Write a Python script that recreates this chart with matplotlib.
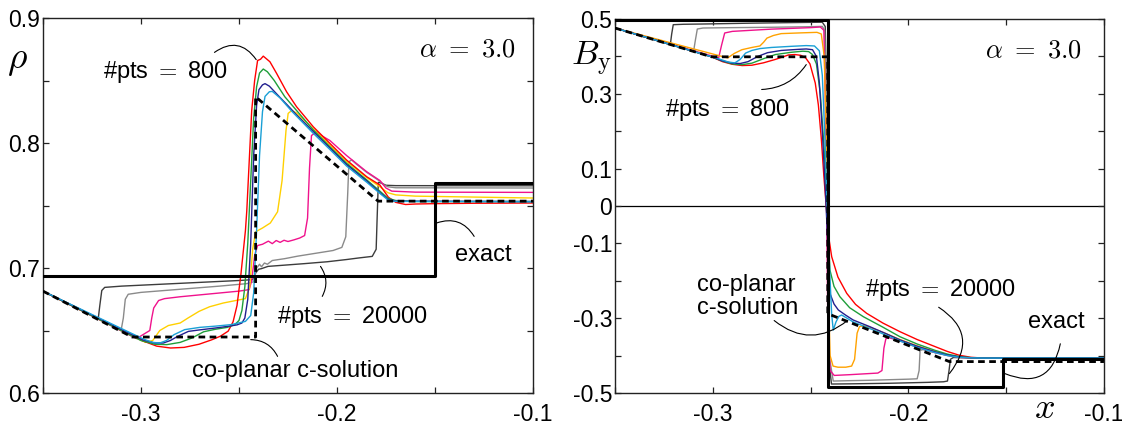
import matplotlib
matplotlib.use("Agg")
import matplotlib.pyplot as plt

plt.rcParams['font.family'] = ['Liberation Sans', 'DejaVu Sans']
plt.rcParams['mathtext.fontset'] = 'cm'

# === colours of the runs (800 ... 20000 pts) ===
c_red, c_green, c_blue, c_cyan = '#ff0000', '#1f9e3a', '#221f8f', '#1aa0d6'
c_yel_l, c_yel_r, c_mag = '#ffd000', '#ffa200', '#f0128c'
c_gray, c_dgray = '#8a8a8a', '#3c3c3c'

# ================= left panel: rho =================
rho_exact_x = [-0.35, -0.15, -0.15, -0.1]
rho_exact_y = [0.6933, 0.6933, 0.7677, 0.7677]
rho_csol_x = [-0.35, -0.3045, -0.2415, -0.2415, -0.179, -0.1]
rho_csol_y = [0.6815, 0.6448, 0.6448, 0.837, 0.7535, 0.7535]

rho_red_x = [-0.35, -0.2995, -0.292, -0.2849, -0.278, -0.2704, -0.264, -0.2594, -0.2555, -0.253, -0.251, -0.249,
             -0.2467, -0.246, -0.2435, -0.242, -0.2405, -0.239, -0.2376, -0.2342, -0.2308, -0.2257, -0.2206,
             -0.2121, -0.2036, -0.1951, -0.1848, -0.1781, -0.1738, -0.17, -0.165, -0.16, -0.15, -0.13, -0.1]
rho_red_y = [0.6815, 0.642, 0.6375, 0.636, 0.6365, 0.639, 0.6425, 0.6455, 0.6495, 0.657, 0.67, 0.695,
             0.73, 0.746, 0.826, 0.85, 0.866, 0.867, 0.8695, 0.865, 0.8557, 0.841, 0.829,
             0.813, 0.7997, 0.7864, 0.773, 0.7664, 0.7567, 0.7525, 0.7508, 0.7512, 0.7515, 0.7518, 0.752]

rho_green_x = [-0.35, -0.3, -0.293, -0.2868, -0.28, -0.274, -0.268, -0.262, -0.256, -0.2521, -0.25, -0.2485,
               -0.247, -0.2455, -0.244, -0.2425, -0.241, -0.2395, -0.2376, -0.2355, -0.232, -0.2266, -0.2206,
               -0.2121, -0.2036, -0.1951, -0.1848, -0.1781, -0.174, -0.17, -0.16, -0.1]
rho_green_y = [0.6815, 0.642, 0.639, 0.6387, 0.6405, 0.644, 0.649, 0.651, 0.6525, 0.6547, 0.658, 0.666,
               0.685, 0.72, 0.77, 0.82, 0.845, 0.856, 0.8592, 0.857, 0.85, 0.837, 0.826,
               0.8105, 0.797, 0.7838, 0.7705, 0.7615, 0.7558, 0.754, 0.7532, 0.7532]

rho_blue_x = [-0.35, -0.299, -0.293, -0.2886, -0.285, -0.2813, -0.2758, -0.27, -0.262, -0.2558, -0.251, -0.2485,
              -0.247, -0.2455, -0.244, -0.2425, -0.241, -0.2398, -0.238, -0.2367, -0.2345, -0.23, -0.2257,
              -0.2206, -0.2121, -0.2036, -0.1951, -0.1848, -0.1781, -0.174, -0.17, -0.1]
rho_blue_y = [0.6815, 0.6425, 0.64, 0.64, 0.642, 0.6453, 0.6493, 0.6505, 0.652, 0.6533, 0.6545, 0.656,
              0.66, 0.675, 0.72, 0.79, 0.83, 0.8427, 0.8465, 0.8475, 0.8455, 0.838, 0.831,
              0.8225, 0.8092, 0.796, 0.7828, 0.7696, 0.7603, 0.755, 0.7535, 0.7532]

rho_cyan_x = [-0.35, -0.2985, -0.294, -0.2904, -0.287, -0.2831, -0.2777, -0.27, -0.262, -0.254, -0.2467, -0.244,
              -0.2425, -0.241, -0.2395, -0.238, -0.2367, -0.2345, -0.233, -0.229, -0.223, -0.2121, -0.2036,
              -0.1951, -0.1848, -0.1781, -0.174, -0.17, -0.1]
rho_cyan_y = [0.6815, 0.643, 0.6405, 0.64, 0.642, 0.6467, 0.6507, 0.6525, 0.6535, 0.6547, 0.6573, 0.662,
              0.68, 0.73, 0.79, 0.825, 0.8373, 0.841, 0.8413, 0.836, 0.8253, 0.8078, 0.7948,
              0.7816, 0.7686, 0.7597, 0.7545, 0.7533, 0.753]

rho_yel_x = [-0.35, -0.2977, -0.294, -0.2904, -0.286, -0.28, -0.276, -0.2704, -0.265, -0.258, -0.25, -0.2467,
             -0.2445, -0.243, -0.2415, -0.238, -0.234, -0.2303, -0.228, -0.226, -0.2249, -0.2231, -0.2206,
             -0.2121, -0.2036, -0.1951, -0.1848, -0.1781, -0.174, -0.17, -0.16, -0.1]
rho_yel_y = [0.6815, 0.6405, 0.642, 0.65, 0.654, 0.656, 0.66, 0.6653, 0.669, 0.672, 0.6745, 0.6755,
             0.685, 0.715, 0.729, 0.732, 0.736, 0.745, 0.77, 0.81, 0.8237, 0.826, 0.824,
             0.8113, 0.7983, 0.7853, 0.7723, 0.765, 0.7602, 0.7585, 0.7575, 0.756]

rho_mag_x = [-0.35, -0.3023, -0.2955, -0.2945, -0.2935, -0.291, -0.288, -0.28, -0.27, -0.26, -0.25, -0.2448,
             -0.2435, -0.242, -0.2405, -0.238, -0.235, -0.233, -0.231, -0.229, -0.227, -0.225, -0.222, -0.219,
             -0.2165, -0.215, -0.214, -0.213, -0.2104, -0.208, -0.2036, -0.1951, -0.1848, -0.1781, -0.175,
             -0.172, -0.16, -0.1]
rho_mag_y = [0.6815, 0.6435, 0.65, 0.66, 0.668, 0.674, 0.6755, 0.677, 0.6785, 0.68, 0.6815, 0.6827,
             0.69, 0.71, 0.718, 0.719, 0.7215, 0.7195, 0.722, 0.7205, 0.7222, 0.7212, 0.7225, 0.724,
             0.726, 0.74, 0.78, 0.806, 0.809, 0.806, 0.802, 0.79, 0.777, 0.77, 0.764,
             0.7615, 0.7607, 0.7605]

rho_gray_x = [-0.35, -0.3101, -0.309, -0.308, -0.3065, -0.3, -0.28, -0.26, -0.246, -0.2425, -0.241, -0.2395,
              -0.2385, -0.237, -0.2355, -0.233, -0.2266, -0.22, -0.21, -0.202, -0.1975, -0.1955, -0.1945,
              -0.1939, -0.1925, -0.19, -0.1848, -0.1781, -0.176, -0.174, -0.17, -0.1]
rho_gray_y = [0.6815, 0.6505, 0.66, 0.675, 0.679, 0.6805, 0.683, 0.6855, 0.6875, 0.689, 0.7, 0.703,
              0.701, 0.704, 0.703, 0.706, 0.7075, 0.7095, 0.712, 0.714, 0.7165, 0.725, 0.76,
              0.785, 0.7865, 0.783, 0.7765, 0.7695, 0.7665, 0.765, 0.7642, 0.764]

rho_dgray_x = [-0.35, -0.3218, -0.321, -0.32, -0.3185, -0.31, -0.29, -0.27, -0.25, -0.243, -0.2415, -0.24,
               -0.2385, -0.2352, -0.225, -0.2166, -0.205, -0.195, -0.1891, -0.182, -0.18, -0.1795, -0.1789,
               -0.1775, -0.175, -0.17, -0.1]
rho_dgray_y = [0.6815, 0.6595, 0.67, 0.682, 0.6845, 0.6855, 0.687, 0.6885, 0.69, 0.6907, 0.696, 0.699,
               0.6995, 0.7013, 0.7025, 0.7035, 0.705, 0.7068, 0.708, 0.7093, 0.715, 0.74, 0.7685,
               0.768, 0.7662, 0.7659, 0.7658]

# ================= right panel: B_y =================
by_exact_x = [-0.35, -0.2412, -0.2412, -0.1516, -0.1516, -0.1]
by_exact_y = [0.498, 0.498, -0.484, -0.484, -0.409, -0.409]
by_csol_x = [-0.35, -0.3006, -0.2412, -0.2412, -0.179, -0.1]
by_csol_y = [0.476, 0.399, 0.399, -0.288, -0.416, -0.416]

by_red_x = [-0.35, -0.3006, -0.295, -0.29, -0.285, -0.28, -0.274, -0.268, -0.264, -0.2613, -0.258, -0.255,
            -0.2525, -0.2503, -0.249, -0.2476, -0.246, -0.2445, -0.2432, -0.242, -0.2408, -0.2392, -0.236,
            -0.2315, -0.227, -0.2213, -0.213, -0.2043, -0.1955, -0.1863, -0.18, -0.174, -0.168, -0.162, -0.1]
by_red_y = [0.476, 0.399, 0.386, 0.379, 0.3756, 0.3765, 0.383, 0.392, 0.399, 0.404, 0.405, 0.403,
            0.396, 0.38, 0.355, 0.329, 0.27, 0.18, 0.08, 0.0, -0.08, -0.1355, -0.19,
            -0.2335, -0.263, -0.287, -0.313, -0.336, -0.357, -0.376, -0.389, -0.399, -0.4045, -0.4065, -0.4065]

by_green_x = [-0.35, -0.3006, -0.295, -0.29, -0.285, -0.28, -0.274, -0.268, -0.26, -0.254, -0.251, -0.249,
              -0.247, -0.245, -0.243, -0.2415, -0.2401, -0.238, -0.235, -0.23, -0.223, -0.213, -0.2043,
              -0.1955, -0.1863, -0.18, -0.174, -0.168, -0.162, -0.1]
by_green_y = [0.476, 0.399, 0.3875, 0.38, 0.378, 0.382, 0.394, 0.405, 0.411, 0.414, 0.413, 0.405,
              0.38, 0.3, 0.15, 0.0, -0.171, -0.215, -0.2425, -0.272, -0.296, -0.324, -0.3495,
              -0.369, -0.386, -0.396, -0.4025, -0.4055, -0.4065, -0.4065]

by_blue_x = [-0.35, -0.3006, -0.295, -0.29, -0.286, -0.282, -0.277, -0.272, -0.265, -0.256, -0.2522, -0.249,
             -0.247, -0.2455, -0.244, -0.2425, -0.2412, -0.2401, -0.238, -0.2358, -0.232, -0.2282, -0.22,
             -0.212, -0.2043, -0.1955, -0.1863, -0.18, -0.174, -0.168, -0.162, -0.1]
by_blue_y = [0.476, 0.399, 0.388, 0.382, 0.381, 0.386, 0.4, 0.41, 0.416, 0.419, 0.42, 0.418,
             0.4, 0.33, 0.2, 0.05, -0.1, -0.2335, -0.262, -0.278, -0.292, -0.3048, -0.322,
             -0.34, -0.358, -0.375, -0.39, -0.3985, -0.4035, -0.406, -0.4065, -0.4065]

by_cyan_x = [-0.35, -0.296, -0.292, -0.2887, -0.286, -0.2832, -0.28, -0.2759, -0.27, -0.26, -0.2522, -0.248,
             -0.2455, -0.244, -0.2428, -0.2418, -0.2408, -0.24, -0.2392, -0.2384, -0.237, -0.2355, -0.2341,
             -0.232, -0.2282, -0.22, -0.212, -0.2043, -0.1955, -0.1863, -0.18, -0.174, -0.168, -0.162, -0.1]
by_cyan_y = [0.476, 0.392, 0.385, 0.3827, 0.392, 0.409, 0.416, 0.421, 0.424, 0.427, 0.429, 0.428,
             0.415, 0.35, 0.2, 0.05, -0.1, -0.2, -0.29, -0.3316, -0.31, -0.295, -0.2914,
             -0.298, -0.31, -0.327, -0.344, -0.361, -0.378, -0.392, -0.4, -0.4045, -0.406, -0.4065, -0.4065]

by_org_x = [-0.35, -0.2924, -0.289, -0.2851, -0.28, -0.2759, -0.274, -0.2723, -0.269, -0.265, -0.255, -0.2467,
            -0.2445, -0.243, -0.242, -0.2413, -0.2408, -0.24, -0.2385, -0.236, -0.232, -0.229, -0.2275,
            -0.2262, -0.225, -0.223, -0.22, -0.212, -0.2043, -0.1955, -0.1863, -0.18, -0.174, -0.168, -0.162, -0.1]
by_org_y = [0.476, 0.396, 0.408, 0.418, 0.424, 0.428, 0.438, 0.449, 0.456, 0.461, 0.463, 0.4644,
            0.46, 0.4, 0.2, 0.0, -0.25, -0.4, -0.428, -0.431, -0.431, -0.428, -0.41,
            -0.34, -0.3227, -0.32, -0.3235, -0.34, -0.357, -0.374, -0.389, -0.398, -0.4035, -0.406, -0.4065, -0.4065]

by_mag_x = [-0.35, -0.297, -0.2955, -0.2939, -0.29, -0.28, -0.27, -0.26, -0.25, -0.245, -0.2432, -0.2425,
            -0.2418, -0.2412, -0.24, -0.2379, -0.23, -0.22, -0.2156, -0.2135, -0.2125, -0.2115, -0.21,
            -0.2043, -0.1955, -0.1863, -0.18, -0.174, -0.168, -0.162, -0.1]
by_mag_y = [0.476, 0.396, 0.43, 0.4627, 0.467, 0.47, 0.473, 0.475, 0.477, 0.4787, 0.47, 0.3,
            0.0, -0.3, -0.44, -0.453, -0.451, -0.448, -0.4467, -0.44, -0.38, -0.355, -0.352,
            -0.3605, -0.3775, -0.392, -0.3995, -0.4045, -0.406, -0.4065, -0.4065]

by_gray_x = [-0.35, -0.3098, -0.309, -0.3079, -0.305, -0.29, -0.27, -0.25, -0.244, -0.2428, -0.242, -0.2414,
             -0.2405, -0.2384, -0.23, -0.22, -0.21, -0.2, -0.1955, -0.1945, -0.194, -0.1925, -0.19,
             -0.1863, -0.18, -0.174, -0.168, -0.162, -0.1]
by_gray_y = [0.476, 0.4138, 0.44, 0.4733, 0.476, 0.477, 0.478, 0.4795, 0.4804, 0.47, 0.3, 0.0,
             -0.4, -0.468, -0.467, -0.466, -0.4645, -0.463, -0.462, -0.44, -0.386, -0.384, -0.387,
             -0.392, -0.3995, -0.4045, -0.406, -0.4065, -0.4065]

by_dgray_x = [-0.35, -0.3217, -0.321, -0.3202, -0.315, -0.3052, -0.28, -0.2503, -0.244, -0.2425, -0.2418,
              -0.2412, -0.2405, -0.2393, -0.23, -0.21, -0.19, -0.182, -0.18, -0.1792, -0.1785, -0.177,
              -0.174, -0.168, -0.162, -0.1]
by_dgray_y = [0.476, 0.4316, 0.46, 0.4849, 0.486, 0.4867, 0.489, 0.4911, 0.4915, 0.48, 0.3,
              0.0, -0.42, -0.476, -0.4755, -0.474, -0.4715, -0.47, -0.468, -0.44, -0.41, -0.405,
              -0.4055, -0.406, -0.4065, -0.4065]

# === figure ===
fig = plt.figure(figsize=(11.22, 4.24), dpi=100)
ax1 = fig.add_axes([0.0383, 0.0731, 0.4367, 0.8844])
ax2 = fig.add_axes([0.5481, 0.0731, 0.4358, 0.882])

FS = 17      # annotation text
TS = 16.5    # tick labels
lw = 1.0

def style(ax):
    for s in ax.spines.values():
        s.set_linewidth(1.0)
        s.set_color('#222222')
    ax.tick_params(direction='in', length=4, width=0.9, top=True, right=True,
                   labelsize=TS, color='#222222')
    ax.tick_params(axis='x', pad=7)
    ax.tick_params(axis='y', pad=2)

alpha_txt = r'$\alpha\ =\ \mathsf{3.0}$'
arc = dict(arrowstyle='-', color='black', lw=0.8, shrinkA=0, shrinkB=0)

# left
runs_l = [(rho_dgray_x, rho_dgray_y, c_dgray), (rho_gray_x, rho_gray_y, c_gray),
          (rho_mag_x, rho_mag_y, c_mag), (rho_yel_x, rho_yel_y, c_yel_l),
          (rho_red_x, rho_red_y, c_red), (rho_green_x, rho_green_y, c_green),
          (rho_blue_x, rho_blue_y, c_blue), (rho_cyan_x, rho_cyan_y, c_cyan)]
for xs, ys, c in runs_l:
    ax1.plot(xs, ys, color=c, lw=lw)
ax1.plot(rho_exact_x, rho_exact_y, color='black', lw=2.2, zorder=5)
ax1.plot(rho_csol_x, rho_csol_y, color='black', lw=2.0, ls=(0, (2.4, 1.6)), zorder=6)

ax1.set_xlim(-0.35, -0.1)
ax1.set_ylim(0.6, 0.9)
ax1.set_xticks([-0.35, -0.3, -0.25, -0.2, -0.15, -0.1])
ax1.set_xticklabels(['', '-0.3', '', '-0.2', '', '-0.1'])
ax1.set_yticks([0.6, 0.65, 0.7, 0.75, 0.8, 0.85, 0.9])
ax1.set_yticklabels(['0.6', '', '0.7', '', '0.8', '', '0.9'])
style(ax1)
ax1.text(-0.053, 0.889, r'$\rho$', transform=ax1.transAxes, fontsize=27, ha='center', va='center')

ax1.text(-0.3196, 0.857, r'#pts $=$ 800', fontsize=FS, ha='left', va='center')
ax1.text(-0.2306, 0.6605, r'#pts $=$ 20000', fontsize=FS, ha='left', va='center')
ax1.text(-0.14, 0.7107, 'exact', fontsize=FS, ha='left', va='center')
ax1.text(-0.274, 0.6173, 'co-planar c-solution', fontsize=FS, ha='left', va='center')
ax1.text(-0.109, 0.8747, alpha_txt, fontsize=FS + 2, ha='right', va='center')

ax1.annotate('', xy=(-0.2412, 0.8667), xytext=(-0.2625, 0.8725),
             arrowprops=dict(arc, connectionstyle='arc3,rad=-0.5'))
ax1.annotate('', xy=(-0.2084, 0.7013), xytext=(-0.2075, 0.6773),
             arrowprops=dict(arc, connectionstyle='arc3,rad=0.3'))
ax1.annotate('', xy=(-0.1492, 0.736), xytext=(-0.13, 0.7253),
             arrowprops=dict(arc, connectionstyle='arc3,rad=0.4'))
ax1.annotate('', xy=(-0.244, 0.6427), xytext=(-0.2303, 0.6293),
             arrowprops=dict(arc, connectionstyle='arc3,rad=0.3'))

# right
runs_r = [(by_dgray_x, by_dgray_y, c_dgray), (by_gray_x, by_gray_y, c_gray),
          (by_mag_x, by_mag_y, c_mag), (by_org_x, by_org_y, c_yel_r),
          (by_red_x, by_red_y, c_red), (by_green_x, by_green_y, c_green),
          (by_blue_x, by_blue_y, c_blue), (by_cyan_x, by_cyan_y, c_cyan)]
for xs, ys, c in runs_r:
    ax2.plot(xs, ys, color=c, lw=lw)
ax2.axhline(0, color='black', lw=0.9, zorder=1)
ax2.plot(by_exact_x, by_exact_y, color='black', lw=2.2, zorder=5)
ax2.plot(by_csol_x, by_csol_y, color='black', lw=2.0, ls=(0, (2.4, 1.6)), zorder=6)

ax2.set_xlim(-0.35, -0.1)
ax2.set_ylim(-0.5, 0.5)
ax2.set_xticks([-0.35, -0.3, -0.25, -0.2, -0.15, -0.1])
ax2.set_xticklabels(['', '-0.3', '', '-0.2', '', '-0.1'])
ax2.set_yticks([-0.5, -0.4, -0.3, -0.2, -0.1, 0, 0.1, 0.2, 0.3, 0.4, 0.5])
ax2.set_yticklabels(['-0.5', '', '-0.3', '', '-0.1', '0', '0.1', '', '0.3', '', '0.5'])
style(ax2)
ax2.text(-0.049, 0.892, r'$B_\mathrm{y}$', transform=ax2.transAxes, fontsize=25, ha='center', va='center')
ax2.text(0.879, -0.068, r'$x$', transform=ax2.transAxes, fontsize=26, ha='center', va='baseline')

ax2.text(-0.3244, 0.2564, r'#pts $=$ 800', fontsize=FS, ha='left', va='center')
ax2.text(-0.1113, 0.4164, alpha_txt, fontsize=FS + 2, ha='right', va='center')
ax2.text(-0.308, -0.2418, 'co-planar\nc-solution', fontsize=FS, ha='left', va='center', linespacing=1.05)
ax2.text(-0.222, -0.2236, r'#pts $=$ 20000', fontsize=FS, ha='left', va='center')
ax2.text(-0.1388, -0.3107, 'exact', fontsize=FS, ha='left', va='center')

ax2.annotate('', xy=(-0.2522, 0.3782), xytext=(-0.275, 0.3116),
             arrowprops=dict(arc, connectionstyle='arc3,rad=0.25'))
ax2.annotate('', xy=(-0.2311, -0.306), xytext=(-0.2686, -0.3062),
             arrowprops=dict(arc, connectionstyle='arc3,rad=0.4'))
ax2.annotate('', xy=(-0.179, -0.448), xytext=(-0.1845, -0.2707),
             arrowprops=dict(arc, connectionstyle='arc3,rad=-0.55'))
ax2.annotate('', xy=(-0.1507, -0.448), xytext=(-0.1223, -0.3684),
             arrowprops=dict(arc, connectionstyle='arc3,rad=-0.6'))

fig.savefig('out.png', dpi=100)
